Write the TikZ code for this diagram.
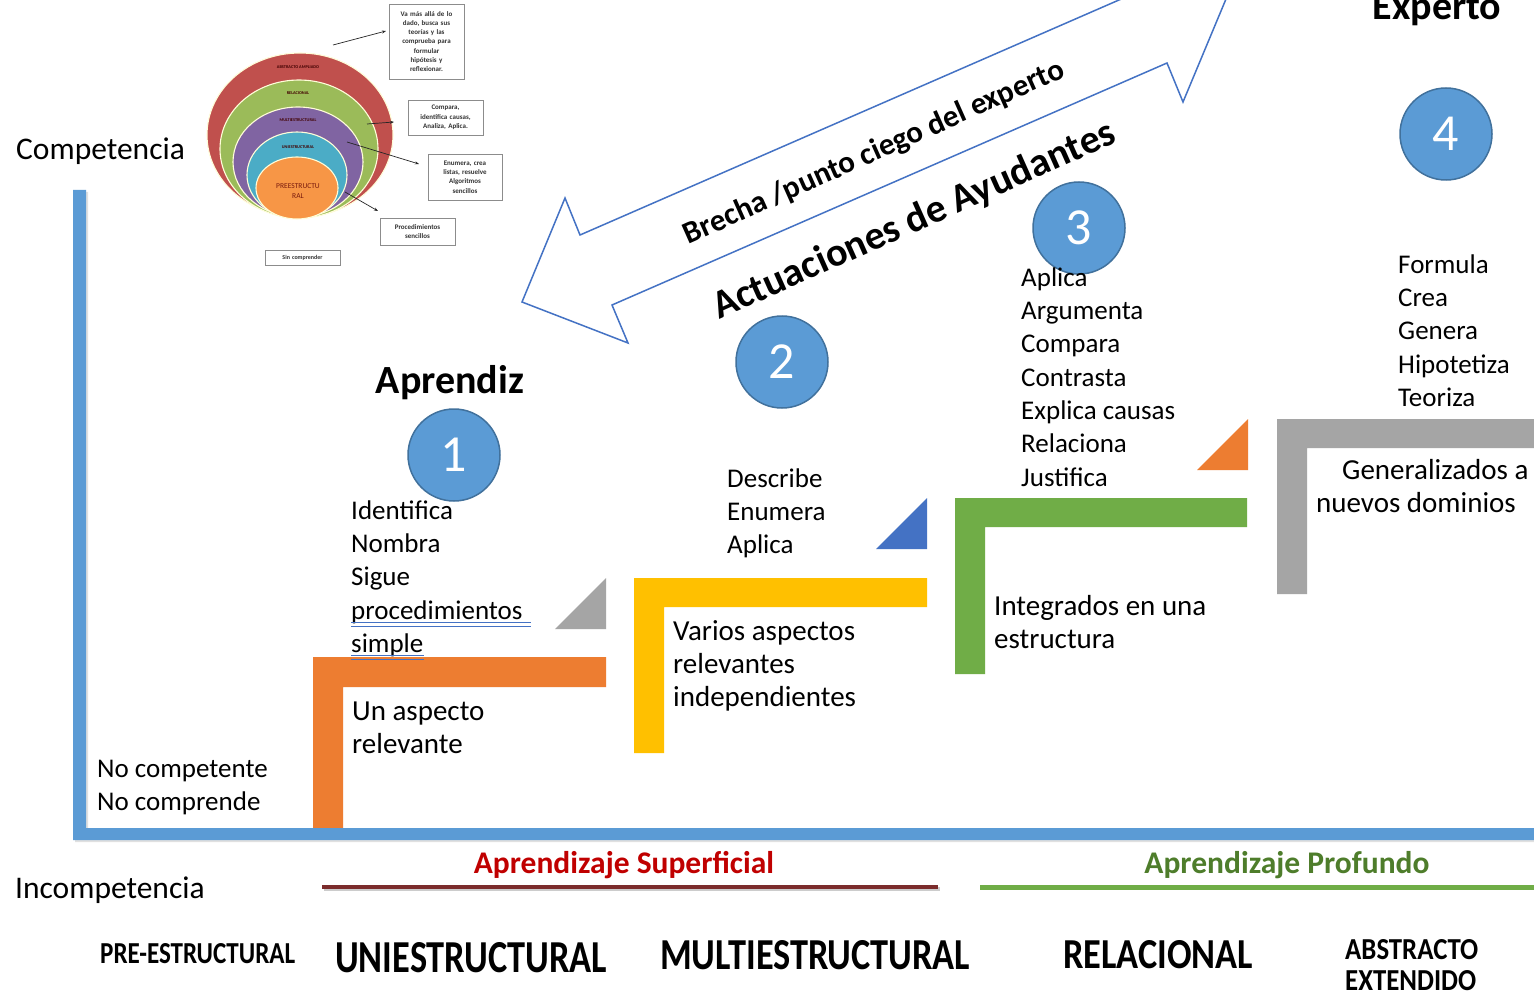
\documentclass[tikz,border=0pt]{standalone}
\usepackage{fontspec}
\setmainfont{Carlito}
\usetikzlibrary{arrows.meta}
\definecolor{axisblue}{HTML}{5B9BD5}
\definecolor{circblue}{HTML}{5B9BD5}
\definecolor{circedge}{HTML}{41719C}
\definecolor{steporange}{HTML}{ED7D31}
\definecolor{stepyellow}{HTML}{FFC000}
\definecolor{stepgreen}{HTML}{70AD47}
\definecolor{stepgray}{HTML}{A5A5A5}
\definecolor{tribblue}{HTML}{4472C4}
\definecolor{arrowblue}{HTML}{4472C4}
\definecolor{supred}{HTML}{C00000}
\definecolor{profgreen}{HTML}{4E7D2B}
\definecolor{redline}{HTML}{7B2C2C}
\definecolor{ired}{HTML}{C0504D}
\definecolor{igreen}{HTML}{9BBB59}
\definecolor{ipurple}{HTML}{8064A2}
\definecolor{icyan}{HTML}{4BACC6}
\definecolor{iorange}{HTML}{F79646}
\begin{document}
\begin{tikzpicture}[x=1pt,y=-1pt,
  listtxt/.style={font=\fontsize{27}{33.3}\selectfont, align=left, anchor=north west, inner sep=0},
  desctxt/.style={font=\fontsize{29}{33}\selectfont, align=left, anchor=north west, inner sep=0},
  bigtxt/.style={font=\fontsize{31.5}{36}\selectfont, anchor=base west, inner sep=0},
  headtxt/.style={font=\fontsize{40}{44}\selectfont\bfseries, anchor=base, inner sep=0},
  numc/.style={circle, fill=circblue, draw=circedge, line width=1.5, minimum size=92, inner sep=0, text=white, font=\fontsize{52}{52}\selectfont},
  leveltxt/.style={anchor=south west, inner sep=0},
  insetring/.style={draw=white!85!yellow, line width=1.1},
  ringlbl/.style={font=\fontsize{4.3}{5}\selectfont\bfseries, text=black!75!red, inner sep=0},
  insetbox/.style={draw=black!45, line width=0.8, fill=white, align=center, inner sep=1, font=\fontsize{7}{9.3}\selectfont\bfseries, text=black!80},
  insetarrow/.style={-{Stealth[length=4pt,width=3pt]}, line width=0.7, black!85}
]
\useasboundingbox (0,0) rectangle (1534,995);
\fill[white] (0,0) rectangle (1534,995);

% ---------- inset figure ----------
\draw[insetring, fill=ired] (300,135) ellipse [x radius=93, y radius=82];
\draw[insetring, fill=igreen] (299,149) ellipse [x radius=79, y radius=69];
\draw[insetring, fill=ipurple] (298,162) ellipse [x radius=65, y radius=55];
\draw[insetring, fill=icyan] (297,175) ellipse [x radius=50, y radius=43];
\draw[insetring, fill=iorange] (297,188) ellipse [x radius=41, y radius=31];
\node[ringlbl] (r1) at (298,67) {ABSTRACTO AMPLIADO};
\node[ringlbl] (r2) at (298,93) {RELACIONAL};
\node[ringlbl] (r3) at (298,120) {MULTIESTRUCTURAL};
\node[ringlbl] (r4) at (298,147) {UNIESTRUCTURAL};
\node[ringlbl, font=\fontsize{7.5}{9.5}\selectfont, text=black!60!red!80!brown, align=center] (r5) at (298,191) {PREESTRUCTU\\RAL};

\node[insetbox, minimum width=75, minimum height=75, text width=72] (b1) at (426.5,41.5) {Va más allá de lo\\dado, busca sus\\teorías y las\\comprueba para\\formular\\hipótesis y\\reflexionar.};
\node[insetbox, minimum width=75, minimum height=35, text width=72] (b2) at (445.5,117.5) {Compara,\\identifica causas,\\Analiza, Aplica.};
\node[insetbox, minimum width=74, minimum height=46, text width=71] (b3) at (465,177) {Enumera, crea\\listas, resuelve\\Algoritmos\\sencillos};
\node[insetbox, minimum width=75, minimum height=27, text width=72] (b4) at (417.5,231.5) {Procedimientos\\sencillos};
\node[insetbox, minimum width=75, minimum height=15, text width=72, font=\fontsize{6}{7}\selectfont\bfseries] (b5) at (302.5,257.5) {Sin comprender};

\coordinate (a1s) at (333,45);  \coordinate (a1e) at (386,31);
\coordinate (a2s) at (367,124); \coordinate (a2e) at (394,122);
\coordinate (a3s) at (347,142); \coordinate (a3e) at (419,164);
\coordinate (a4s) at (345,192); \coordinate (a4e) at (378,211);
\draw[insetarrow] (a1s) -- (a1e);
\draw[insetarrow] (a2s) -- (a2e);
\draw[insetarrow] (a3s) -- (a3e);
\draw[insetarrow] (a4s) -- (a4e);

% ---------- big double arrow ----------
\begin{scope}
\clip (0,0) rectangle (1534,995);
\draw[arrowblue, line width=1.5, line join=miter]
  (522,302) -- (565,198) -- (580,235) -- (1135,-7) -- (1120,-43) -- (1226,-1)
  -- (1183,102) -- (1167,63) -- (612,305) -- (628,343) -- cycle;
\end{scope}
\node[font=\fontsize{31}{34}\selectfont\bfseries, rotate=24, inner sep=0] (brecha) at (874,153) {Brecha /punto ciego del experto};
\node[font=\fontsize{40}{44}\selectfont\bfseries, rotate=24, inner sep=0] (actua) at (914,221) {Actuaciones de Ayudantes};

% ---------- steps ----------
\fill[steporange] (313,830) -- (313,657) -- (606,657) -- (606,687) -- (343,687) -- (343,830) -- cycle;
\fill[stepyellow] (634,753) -- (634,578) -- (927,578) -- (927,607) -- (664,607) -- (664,753) -- cycle;
\fill[stepgreen] (955,674) -- (955,498) -- (1247,498) -- (1247,527) -- (985,527) -- (985,674) -- cycle;
\fill[stepgray] (1277,594) -- (1277,419) -- (1534,419) -- (1534,448) -- (1307,448) -- (1307,594) -- cycle;

\fill[stepgray] (555,629) -- (606,629) -- (606,578) -- cycle;
\fill[tribblue] (876,549) -- (927,549) -- (927,498) -- cycle;
\fill[steporange] (1197,470) -- (1248,470) -- (1248,419) -- cycle;

% ---------- axis ----------
\fill[black!12] (75,192) -- (88,192) -- (88,830) -- (1534,830) -- (1534,842) -- (75,842) -- cycle;
\fill[axisblue] (73,190) -- (86,190) -- (86,828) -- (1534,828) -- (1534,840) -- (73,840) -- cycle;

% ---------- texts ----------
\node[bigtxt] (comp) at (16,160) {Competencia};
\node[bigtxt] (incomp) at (15,898) {Incompetencia};
\node[listtxt] (nocomp) at (97,753.7) {\strut No competente\\No comprende};

\node[headtxt] (aprendiz) at (450,393) {Aprendiz};
\node[headtxt] (experto) at (1437,20) {Experto};

\node[numc] (c1) at (454,455) {1};
\node[numc] (c2) at (782,362) {2};
\node[numc] (c3) at (1079,228) {3};
\node[numc] (c4) at (1446,134) {4};

\node[listtxt] (l1) at (351,495.7) {\strut Identifica\\Nombra\\Sigue\\procedimientos\\simple};
\draw[tribblue, line width=1] (351,622) -- (531,622) (351,626.5) -- (531,626.5);
\draw[tribblue, line width=1] (351,655) -- (424,655) (351,659.5) -- (424,659.5);
\node[desctxt] (d1) at (352,696.9) {\strut Un aspecto\\relevante};

\node[listtxt] (l2) at (727,463.7) {\strut Describe\\Enumera\\Aplica};
\node[desctxt] (d2) at (673,616.9) {\strut Varios aspectos\\relevantes\\independientes};

\node[listtxt] (l3) at (1021,262.7) {\strut Aplica\\Argumenta\\Compara\\Contrasta\\Explica causas\\Relaciona\\Justifica};
\node[desctxt] (d3) at (994,591.9) {\strut Integrados en una\\estructura};

\node[listtxt] (l4) at (1398,249.7) {\strut Formula\\Crea\\Genera\\Hipotetiza\\Teoriza};
\node[desctxt] (d4) at (1316,455.9) {\strut\hspace*{26pt}Generalizados a\\nuevos dominios};

% ---------- learning bands ----------
\node[font=\fontsize{31.5}{36}\selectfont\bfseries, text=supred, anchor=base, inner sep=0] (sup) at (624,873) {Aprendizaje Superficial};
\node[font=\fontsize{31.5}{36}\selectfont\bfseries, text=profgreen, anchor=base, inner sep=0] (prof) at (1287,873) {Aprendizaje Profundo};
\draw[black!20, line width=4] (324,889) -- (940,889);
\draw[redline, line width=4] (322,887) -- (938,887);
\draw[stepgreen, line width=5] (980,887) -- (1534,887);

% ---------- level names ----------
\node[leveltxt] (pre) at (100,964) {\resizebox{195pt}{20pt}{\bfseries PRE-ESTRUCTURAL}};
\node[leveltxt] (uni) at (335,973) {\resizebox{272pt}{30pt}{\bfseries UNIESTRUCTURAL}};
\node[leveltxt] (multi) at (660,970) {\resizebox{310pt}{29pt}{\bfseries MULTIESTRUCTURAL}};
\node[leveltxt] (rel) at (1063,969) {\resizebox{190pt}{28pt}{\bfseries RELACIONAL}};
\node[leveltxt] (abs) at (1345,960) {\resizebox{133pt}{20pt}{\bfseries ABSTRACTO}};
\node[leveltxt] (ext) at (1345,991) {\resizebox{131pt}{20pt}{\bfseries EXTENDIDO}};
\end{tikzpicture}
\end{document}
